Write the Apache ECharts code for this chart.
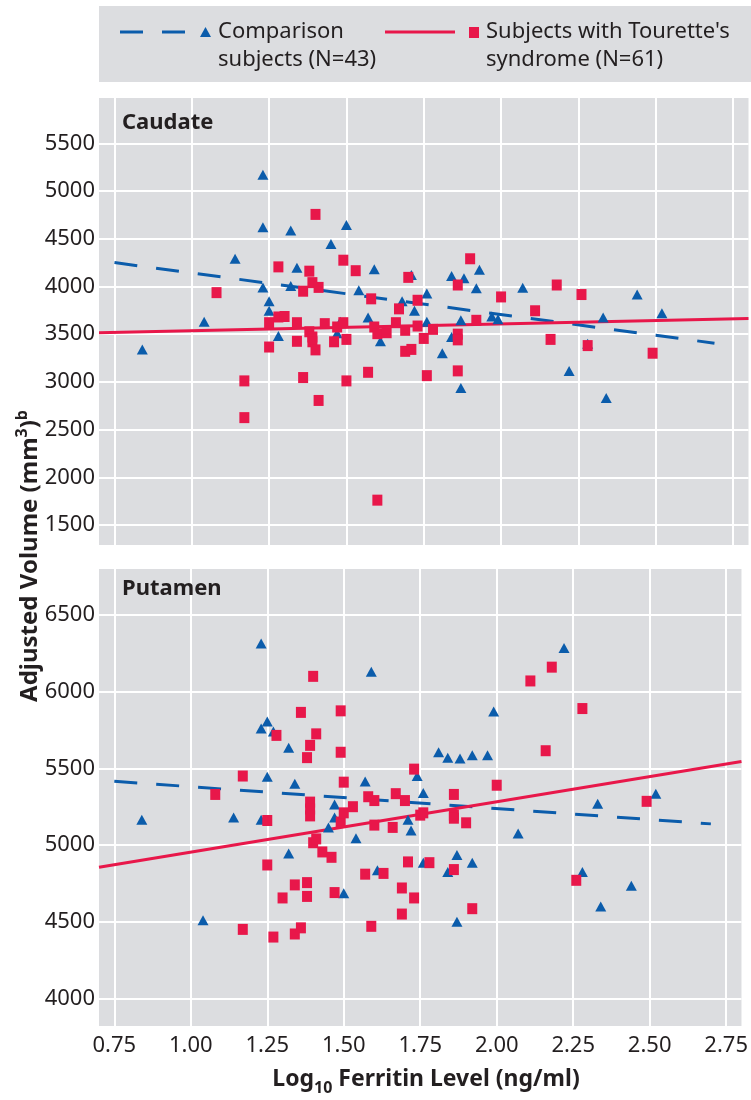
<!DOCTYPE html>
<html>
<head>
<meta charset="utf-8">
<script src="https://cdn.jsdelivr.net/npm/echarts@6/dist/echarts.min.js"></script>
<style>
html,body{margin:0;padding:0;background:#fff;}
#chart{width:751px;height:1100px;}
</style>
</head>
<body>
<div id="chart"></div>
<script>
// ---- tick labels ----
const xTicks = [0.75, 1.00, 1.25, 1.50, 1.75, 2.00, 2.25, 2.50, 2.75];
const caudateTicks = [1500, 2000, 2500, 3000, 3500, 4000, 4500, 5000, 5500];
const putamenTicks = [4000, 4500, 5000, 5500, 6000, 6500];

// ---- Caudate ----
const caudateComparison = [
  [1.23,5170],[1.23,4620],[1.32,4585],[1.50,4645],[1.45,4445],[1.14,4290],[1.34,4195],
  [1.59,4180],[1.71,4120],[1.84,4110],[1.88,4085],[1.93,4175],[1.23,3990],[1.32,4005],
  [1.54,3960],[1.76,3925],[1.92,3980],[2.07,3985],[2.44,3915],
  [0.84,3340],[1.04,3630],[1.25,3845],[1.25,3745],[1.28,3480],[1.57,3675],[1.68,3845],
  [1.72,3745],[1.76,3630],[1.48,3630],[1.47,3510],[1.61,3425],[1.81,3300],[1.84,3470],
  [1.87,3645],[1.87,2935],[1.97,3685],[1.99,3655],[2.22,3115],[2.28,3400],[2.33,3675],
  [2.34,2830],[2.52,3720]
];
const caudateTourette = [
  [1.40,4755],[1.49,4275],[1.28,4205],[1.38,4160],[1.53,4165],[1.70,4095],[1.90,4290],
  [1.86,4015],[2.18,4015],[1.39,4040],[1.41,3990],[1.36,3950],[1.08,3935],[2.00,3890],
  [2.26,3915],[1.58,3870],
  [1.17,3010],[1.17,2625],[1.25,3620],[1.25,3365],[1.28,3680],[1.30,3685],[1.34,3620],
  [1.34,3425],[1.36,3045],[1.38,3525],[1.39,3470],[1.39,3420],[1.40,3335],[1.41,2805],
  [1.43,3610],[1.46,3420],[1.47,3575],[1.49,3620],[1.50,3445],[1.50,3010],[1.57,3100],
  [1.59,3575],[1.60,3505],[1.63,3515],[1.60,1760],[1.66,3620],[1.67,3765],[1.69,3540],
  [1.69,3320],[1.71,3340],[1.73,3855],[1.73,3585],[1.75,3455],[1.76,3065],[1.78,3550],
  [1.86,3500],[1.86,3440],[1.86,3115],[1.92,3645],[2.11,3745],[2.16,3445],[2.28,3380],
  [2.49,3300]
];
const caudateComparisonFit = [[0.75,4250],[2.69,3405]];
const caudateTouretteFit = [[0.70,3515],[2.80,3665]];

// ---- Putamen ----
const putamenComparison = [
  [1.23,6315],[1.59,6130],[2.22,6285],[1.99,5870],[1.23,5760],[1.25,5805],[1.27,5740],
  [1.32,5635],[1.81,5605],[1.84,5570],[1.88,5565],[1.92,5585],[1.97,5585],
  [0.84,5165],[1.04,4510],[1.14,5180],[1.23,5165],[1.25,5445],[1.32,4945],[1.34,5400],
  [1.45,5115],[1.47,5265],[1.47,5180],[1.50,4685],[1.54,5045],[1.57,5415],[1.61,4835],
  [1.71,5165],[1.72,5095],[1.74,5450],[1.76,5340],[1.76,4885],[1.84,4825],[1.87,4935],
  [1.87,4500],[1.92,4885],[2.07,5075],[2.28,4825],[2.33,5270],[2.34,4600],[2.44,4735],
  [2.52,5335]
];
const putamenTourette = [
  [1.40,6100],[2.11,6070],[2.18,6160],[2.28,5890],[1.49,5875],[1.36,5865],[1.41,5725],
  [1.28,5715],[1.39,5650],[1.38,5570],[1.49,5605],[2.16,5615],[1.73,5495],
  [1.08,5330],[1.17,5450],[1.17,4450],[1.25,5160],[1.25,4870],[1.27,4400],[1.30,4655],
  [1.34,4740],[1.34,4420],[1.36,4460],[1.38,4755],[1.38,4665],[1.39,5280],[1.39,5235],
  [1.39,5190],[1.40,5015],[1.41,5040],[1.43,4955],[1.46,4920],[1.47,4690],[1.49,5150],
  [1.50,5410],[1.50,5210],[1.53,5250],[1.57,4810],[1.58,5315],[1.60,5290],[1.60,5130],
  [1.59,4470],[1.63,4815],[1.66,5115],[1.67,5335],[1.69,4720],[1.69,4550],[1.70,5290],
  [1.71,4890],[1.73,4655],[1.75,5195],[1.76,5210],[1.78,4885],[1.86,5330],[1.86,5195],
  [1.86,5175],[1.86,4840],[1.90,5145],[1.92,4585],[2.00,5390],[2.26,4770],[2.49,5285]
];
const putamenComparisonFit = [[0.75,5416],[2.70,5138]];
const putamenTouretteFit = [[0.70,4855],[2.80,5545]];

const BLUE = '#0b5cab';
const RED = '#e8174a';
const PANEL = '#dcdde0';
const TXT = '#231f20';
const FONT = 'Noto Sans';

function xAxisCfg(gridIndex, showLabels) {
  return {
    type: 'value', gridIndex: gridIndex, min: 0.7, max: 2.8,
    axisLine: {show: false},
    axisTick: {show: false, customValues: xTicks},
    axisLabel: {show: showLabels, customValues: xTicks, margin: 9,
      formatter: v => Number(v).toFixed(2),
      color: TXT, fontFamily: FONT, fontSize: 22},
    splitLine: {show: true, lineStyle: {color: '#ffffff', width: 2}}
  };
}
function yAxisCfg(gridIndex, min, max, ticks) {
  return {
    type: 'value', gridIndex: gridIndex, min: min, max: max,
    axisLine: {show: false},
    axisTick: {show: false, customValues: ticks},
    axisLabel: {customValues: ticks, margin: 4, formatter: v => String(Math.round(v)),
      color: TXT, fontFamily: FONT, fontSize: 22},
    splitLine: {show: true, lineStyle: {color: '#ffffff', width: 2}}
  };
}
function fitLine(name, data, xi, color, dashed) {
  return {
    type: 'line', name: name, xAxisIndex: xi, yAxisIndex: xi, data: data,
    symbol: 'none', silent: true, z: 2,
    lineStyle: {color: color, width: 3, type: dashed ? [23, 19] : 'solid', cap: 'butt'}
  };
}
function scatter(name, data, xi, symbol, size, color, z) {
  return {
    type: 'scatter', name: name, xAxisIndex: xi, yAxisIndex: xi, data: data,
    symbol: symbol, symbolSize: size, itemStyle: {color: color, opacity: 1}, z: z
  };
}

const chart = echarts.init(document.getElementById('chart'), null, {renderer: 'canvas'});
chart.setOption({
  animation: false,
  backgroundColor: '#ffffff',
  textStyle: {fontFamily: FONT},
  grid: [
    {left: 99, top: 98, right: 2.5, height: 447, show: true, backgroundColor: PANEL, borderWidth: 0},
    {left: 99, top: 569, right: 2.5, height: 457, show: true, backgroundColor: PANEL, borderWidth: 0}
  ],
  xAxis: [xAxisCfg(0, false), xAxisCfg(1, true)],
  yAxis: [yAxisCfg(0, 1290, 5975, caudateTicks), yAxisCfg(1, 3820, 6800, putamenTicks)],
  series: [
    fitLine('Comparison fit (caudate)', caudateComparisonFit, 0, BLUE, true),
    fitLine('Tourette fit (caudate)', caudateTouretteFit, 0, RED, false),
    scatter('Comparison subjects (caudate)', caudateComparison, 0, 'triangle', [11, 10], BLUE, 3),
    scatter('Tourette subjects (caudate)', caudateTourette, 0, 'rect', [10, 11], RED, 4),
    fitLine('Comparison fit (putamen)', putamenComparisonFit, 1, BLUE, true),
    fitLine('Tourette fit (putamen)', putamenTouretteFit, 1, RED, false),
    scatter('Comparison subjects (putamen)', putamenComparison, 1, 'triangle', [11, 10], BLUE, 3),
    scatter('Tourette subjects (putamen)', putamenTourette, 1, 'rect', [10, 11], RED, 4)
  ],
  graphic: [
    {type: 'rect', shape: {x: 99, y: 6, width: 652, height: 76}, style: {fill: PANEL}, z: 1},
    {type: 'line', shape: {x1: 120, y1: 32, x2: 188, y2: 32},
      style: {stroke: BLUE, lineWidth: 3, lineDash: [23, 19]}, z: 2},
    {type: 'polygon', shape: {points: [[205.5, 27], [211, 37], [200, 37]]}, style: {fill: BLUE}, z: 2},
    {type: 'text', x: 218, y: 18, z: 2,
      style: {text: 'Comparison\nsubjects (N=43)', fill: TXT, font: '22px "Noto Sans"', lineHeight: 28,
        verticalAlign: 'top', align: 'left'}},
    {type: 'line', shape: {x1: 385, y1: 32, x2: 455, y2: 32},
      style: {stroke: RED, lineWidth: 3}, z: 2},
    {type: 'rect', shape: {x: 469, y: 27, width: 10, height: 11}, style: {fill: RED}, z: 2},
    {type: 'text', x: 486, y: 18, z: 2,
      style: {text: "Subjects with Tourette's\nsyndrome (N=61)", fill: TXT, font: '22px "Noto Sans"', lineHeight: 28,
        verticalAlign: 'top', align: 'left'}},
    {type: 'text', x: 122, y: 123, z: 5,
      style: {text: 'Caudate', fill: TXT, font: 'bold 22px "Noto Sans"', verticalAlign: 'middle'}},
    {type: 'text', x: 122, y: 589, z: 5,
      style: {text: 'Putamen', fill: TXT, font: 'bold 22px "Noto Sans"', verticalAlign: 'middle'}},
    {type: 'text', x: 28, y: 556, rotation: Math.PI / 2, z: 5,
      style: {text: '{b|Adjusted Volume (mm}{s|3}{b|)}{s|b}', align: 'center', verticalAlign: 'middle',
        rich: {
          b: {fontFamily: FONT, fontWeight: 'bold', fontSize: 24, fill: TXT, lineHeight: 28, verticalAlign: 'bottom'},
          s: {fontFamily: FONT, fontWeight: 'bold', fontSize: 16, fill: TXT, lineHeight: 17, verticalAlign: 'top'}
        }}},
    {type: 'text', x: 426, y: 1082, z: 5,
      style: {text: '{b|Log}{s|10}{b| Ferritin Level (ng/ml)}', align: 'center', verticalAlign: 'middle',
        rich: {
          b: {fontFamily: FONT, fontWeight: 'bold', fontSize: 23, fill: TXT, lineHeight: 28, verticalAlign: 'top'},
          s: {fontFamily: FONT, fontWeight: 'bold', fontSize: 16, fill: TXT, lineHeight: 17, verticalAlign: 'bottom'}
        }}}
  ]
});
</script>
</body>
</html>
